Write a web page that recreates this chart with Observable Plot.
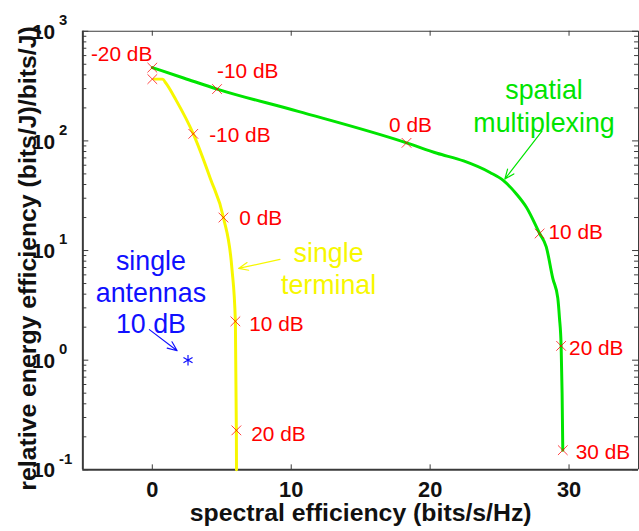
<!DOCTYPE html>
<html><head><meta charset="utf-8">
<script src="https://cdn.jsdelivr.net/npm/d3@7"></script>
<script src="https://cdn.jsdelivr.net/npm/@observablehq/plot@0.6"></script>
<style>
html,body{margin:0;padding:0;overflow:hidden;background:#fff}
svg, svg text{font-family:"Liberation Sans", Arial, Helvetica, sans-serif !important}
</style>
</head><body><div id="chart"></div>
<script>
// ---------- data ----------
const snrLabels = ["-20 dB", "-10 dB", "0 dB", "10 dB", "20 dB", "30 dB"];
// spatial multiplexing markers
const smMarkerX = [0, 4.66, 18.3, 27.88, 29.43, 29.55];
const smMarkerY = [466, 297, 96, 14.3, 1.35, 0.151];
// single terminal markers
const stMarkerX = [0, 2.95, 5.12, 5.98, 6.05];
const stMarkerY = [366, 116, 20, 2.26, 0.229];
// curves
const smCurveX = [0, 2.3, 4.66, 10.5, 18.3, 20.5, 22.41, 24.31, 25.26, 26.21, 26.93, 27.88, 28.36, 28.83, 29.19, 29.31, 29.43, 29.5, 29.55];
const smCurveY = [466, 373, 297, 186, 96, 77.1, 65.6, 51.5, 43.6, 32.8, 24.8, 14.3, 10.8, 5.58, 3.68, 2.43, 1.35, 0.5, 0.151];
const stCurveX = [0.14, 0.74, 0.98, 1.69, 2.95, 4.19, 5.12, 5.73, 5.98, 6.05, 6.06];
const stCurveY = [366, 366, 336, 238, 116, 44.9, 20, 6.87, 2.26, 0.229, 0.1];
// single antennas point
const antennaX = [2.57];
const antennaY = [1.0];
// annotations
const annotTexts = ["spatial\nmultiplexing", "single\nterminal", "single\nantennas\n10 dB"];
const annotX = [28.2, 12.69, -0.1];
const annotY = [214, 7.0, 4.23];
const arrowFromX = [28.05, 9.19, -0.21];
const arrowFromY = [122.7, 8.3, 1.9];
const arrowToX = [25.38, 6.21, 1.79];
const arrowToY = [44.9, 6.87, 1.22];
// ticks
const xTicks = [0, 10, 20, 30];
const xTickLabels = ["0", "10", "20", "30"];
const yDecades = [0.1, 1, 10, 100, 1000];
const yExponents = ["-1", "0", "1", "2", "3"];
const yMinor = [0.2,0.3,0.4,0.5,0.6,0.7,0.8,0.9, 2,3,4,5,6,7,8,9, 20,30,40,50,60,70,80,90, 200,300,400,500,600,700,800,900];

// ---------- styles ----------
const GREEN = "#00e400", YELLOW = "#f7f700", RED = "#ff0000", BLUE = "#1010ff", AXIS = "#3a3a3a";
const FONT = "'Liberation Sans', Arial, Helvetica, sans-serif";
const smPlace = [
  {a: "end", dx: 0, dy: -13}, {a: "start", dx: 0, dy: -18}, {a: "middle", dx: 4, dy: -18},
  {a: "start", dx: 9, dy: -1}, {a: "start", dx: 8, dy: 2}, {a: "start", dx: 13, dy: 2}
];
const stPlace = [null, {a: "start", dx: 16, dy: 2}, {a: "start", dx: 16, dy: 1},
  {a: "start", dx: 14, dy: 3}, {a: "start", dx: 15, dy: 4}];
const annotColors = [GREEN, YELLOW, BLUE];
const annotLH = [1.26, 1.2, 1.17];

const W = 644, H = 531, ML = 83, MR = 1, MT = 31, MB = 58;
const PW = W - ML - MR, PH = H - MT - MB;

const smCurve = smCurveX.map((x, i) => ({x, y: smCurveY[i]}));
const stCurve = stCurveX.map((x, i) => ({x, y: stCurveY[i]}));
const smMarks = smMarkerX.map((x, i) => ({x, y: smMarkerY[i], label: snrLabels[i], place: smPlace[i]}));
const stMarks = stMarkerX.map((x, i) => ({x, y: stMarkerY[i], label: snrLabels[i], place: stPlace[i]}));
const antenna = antennaX.map((x, i) => ({x, y: antennaY[i]}));
const arrows = arrowFromX.map((x1, i) => ({x1, y1: arrowFromY[i], x2: arrowToX[i], y2: arrowToY[i], c: annotColors[i]}));
const annots = annotTexts.map((t, i) => ({t, x: annotX[i], y: annotY[i], c: annotColors[i], lh: annotLH[i]}));

const labelMarks = [];
for (const d of [...smMarks, ...stMarks]) {
  if (!d.place) continue;
  labelMarks.push(Plot.text([d], {x: "x", y: "y", text: "label", fill: RED, fontSize: 21, fontFamily: FONT,
    textAnchor: d.place.a, lineAnchor: "middle", dx: d.place.dx, dy: d.place.dy}));
}
const annotMarks = annots.map(d => Plot.text([d], {x: "x", y: "y", text: "t", fill: d.c, fontFamily: FONT,
  fontSize: 27, lineHeight: d.lh, textAnchor: "middle", lineAnchor: "middle"}));
const arrowMarks = arrows.map(d => Plot.arrow([d], {x1: "x1", y1: "y1", x2: "x2", y2: "y2",
  stroke: d.c, strokeWidth: 1.2, headLength: 13, headAngle: 45}));

const chart = Plot.plot({
  width: W, height: H,
  marginLeft: ML, marginRight: MR, marginTop: MT, marginBottom: MB,
  style: `font-family: ${FONT}; background: white; overflow: visible;`,
  x: {domain: [-5, 35], axis: null},
  y: {type: "log", domain: [0.1, 1000], axis: null},
  marks: [
    // frame
    Plot.ruleY([1000], {stroke: AXIS, strokeWidth: 1}),
    Plot.ruleX([35], {stroke: AXIS, strokeWidth: 1}),
    // ticks
    Plot.tickX(xTicks, {x: d => d, stroke: AXIS, insetTop: PH - 5}),
    Plot.tickX(xTicks, {x: d => d, stroke: AXIS, insetBottom: PH - 5}),
    Plot.tickY(yDecades, {y: d => d, stroke: AXIS, insetRight: PW - 6}),
    Plot.tickY(yMinor, {y: d => d, stroke: AXIS, insetRight: PW - 4}),
    Plot.tickY(yDecades, {y: d => d, stroke: AXIS, insetLeft: PW - 6}),
    Plot.tickY(yMinor, {y: d => d, stroke: AXIS, insetLeft: PW - 4}),
    Plot.ruleY([0.1], {stroke: AXIS, strokeWidth: 2}),
    Plot.ruleX([-5], {stroke: AXIS, strokeWidth: 2}),
    // tick labels
    Plot.text(xTicks, {x: d => d, frameAnchor: "bottom", text: (d, i) => xTickLabels[i], fontFamily: FONT,
      textAnchor: "middle", lineAnchor: "middle", dy: 20, fontSize: 22, fontWeight: "bold", fill: "#111"}),
    Plot.text(yDecades, {y: d => d, frameAnchor: "left", text: () => "10", textAnchor: "end", lineAnchor: "middle", fontFamily: FONT,
      dx: -28, dy: 1, fontSize: 21, fontWeight: "bold", fill: "#111"}),
    Plot.text(yDecades, {y: d => d, frameAnchor: "left", text: (d, i) => yExponents[i], textAnchor: "start", lineAnchor: "middle", fontFamily: FONT,
      dx: -24, dy: -11, fontSize: 15, fontWeight: "bold", fill: "#111"}),
    // axis titles
    Plot.text(["spectral efficiency (bits/s/Hz)"], {frameAnchor: "bottom", text: d => d, fontFamily: FONT,
      textAnchor: "middle", lineAnchor: "middle", dy: 44, fontSize: 25, fontWeight: "bold", fill: "#111"}),
    Plot.text(["relative energy efficiency (bits/J)/bits/J)"], {frameAnchor: "left", text: d => d, fontFamily: FONT,
      textAnchor: "middle", lineAnchor: "middle", rotate: -90, dx: -55, dy: 8, fontSize: 25, fontWeight: "bold", fill: "#111"}),
    // curves
    Plot.line(smCurve, {x: "x", y: "y", stroke: GREEN, strokeWidth: 3, curve: "monotone-x"}),
    Plot.line(stCurve, {x: "x", y: "y", stroke: YELLOW, strokeWidth: 3, curve: "monotone-x"}),
    // markers
    Plot.dot(smMarks, {x: "x", y: "y", symbol: "times", r: 4.5, stroke: RED, strokeWidth: 1, strokeOpacity: 0.75}),
    Plot.dot(stMarks, {x: "x", y: "y", symbol: "times", r: 4.5, stroke: RED, strokeWidth: 1, strokeOpacity: 0.75}),
    Plot.dot(antenna, {x: "x", y: "y", symbol: "asterisk", r: 5, stroke: BLUE, strokeWidth: 1.2}),
    ...labelMarks,
    ...annotMarks,
    ...arrowMarks
  ]
});
document.getElementById("chart").appendChild(chart);
</script>
</body></html>
